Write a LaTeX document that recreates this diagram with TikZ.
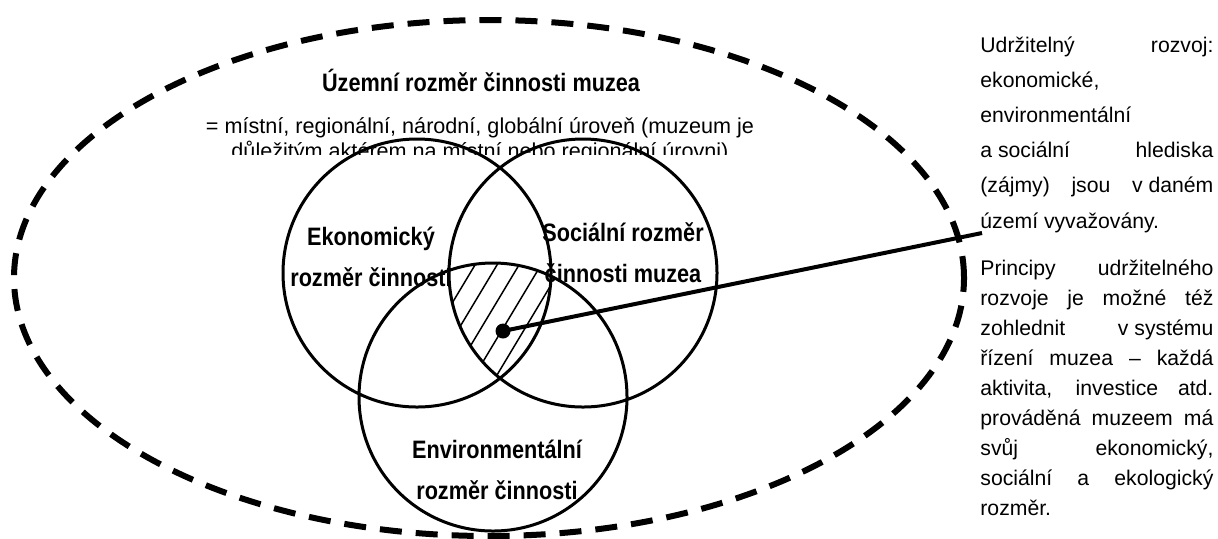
\documentclass[tikz,border=0pt]{standalone}
\usepackage{fontspec}
\setmainfont{Liberation Sans}
\newfontfamily\uzke{Liberation Sans}[FakeStretch=0.86]
\begin{document}
\begin{tikzpicture}[x=0.5pt,y=-0.5pt,
	kruh/.style={line width=1.5pt},
	nadpis/.style={font=\uzke\bfseries\fontsize{12.6}{20.5}\selectfont,align=center,inner sep=0pt},
	popis/.style={font=\fontsize{10.6}{17.6}\selectfont,text width=116.5pt,align=justify,inner sep=0pt,anchor=base west}]
	\useasboundingbox (0,0) rectangle (1218,538);
	
	%Území
	\draw[line width=3pt,dash pattern=on 11pt off 7pt] (489,278) ellipse [x radius=237.5pt,y radius=129pt];
	\node[nadpis] (uzemi) at (481,80) {Územní rozměr činnosti muzea};
	\begin{scope}
		\clip (150,100) rectangle (820,154);
		\node[font=\fontsize{10.8}{12.5}\selectfont,align=center] (urovne) at (480,140) {= místní, regionální, národní, globální úroveň (muzeum je\\důležitým aktérem na místní nebo regionální úrovni)};
	\end{scope}
	
	%Kruhy
	\coordinate (eko) at (417,273);
	\coordinate (soc) at (583,273);
	\coordinate (env) at (493,397);
	\begin{scope}
		\clip (eko) circle [radius=67pt];
		\clip (soc) circle [radius=67pt];
		\clip (env) circle [radius=67pt];
		\foreach \x in {294,316,...,700}
		\draw[line width=0.75pt] (\x,420) -- ++(150,-250);
	\end{scope}
	\draw[kruh] (eko) circle [radius=67pt]
	(soc) circle [radius=67pt]
	(env) circle [radius=67pt];
	\node[nadpis] (eko-text) at (371,257) {Ekonomický\\rozměr činnosti};
	\node[nadpis] (soc-text) at (623,253) {Sociální rozměr\\činnosti muzea};
	\node[nadpis] (env-text) at (497,470) {Environmentální\\rozměr činnosti};
	
	%Spojnice
	\node[circle,fill=black,inner sep=0pt,minimum size=7.5pt] (bod) at (503,331) {};
	\coordinate (konec) at (982,233);
	\draw[line width=2pt] (bod.center) -- (konec);
	
	%Text vpravo
	\node[popis] (udrz) at (980,52) {Udržitelný rozvoj:\linebreak ekonomické,\newline environmentální\newline \mbox{a sociální} hlediska\linebreak (zájmy) jsou \mbox{v daném}\linebreak území vyvažovány.};
	\node[popis,font=\fontsize{10.6}{15}\selectfont] (princip) at (980,275) {Principy udržitelného\linebreak rozvoje je možné též\linebreak zohlednit \mbox{v systému}\linebreak řízení muzea – každá\linebreak aktivita, investice atd.\linebreak prováděná muzeem má\linebreak svůj ekonomický,\linebreak sociální a ekologický\linebreak rozměr.};
\end{tikzpicture}
\end{document}
